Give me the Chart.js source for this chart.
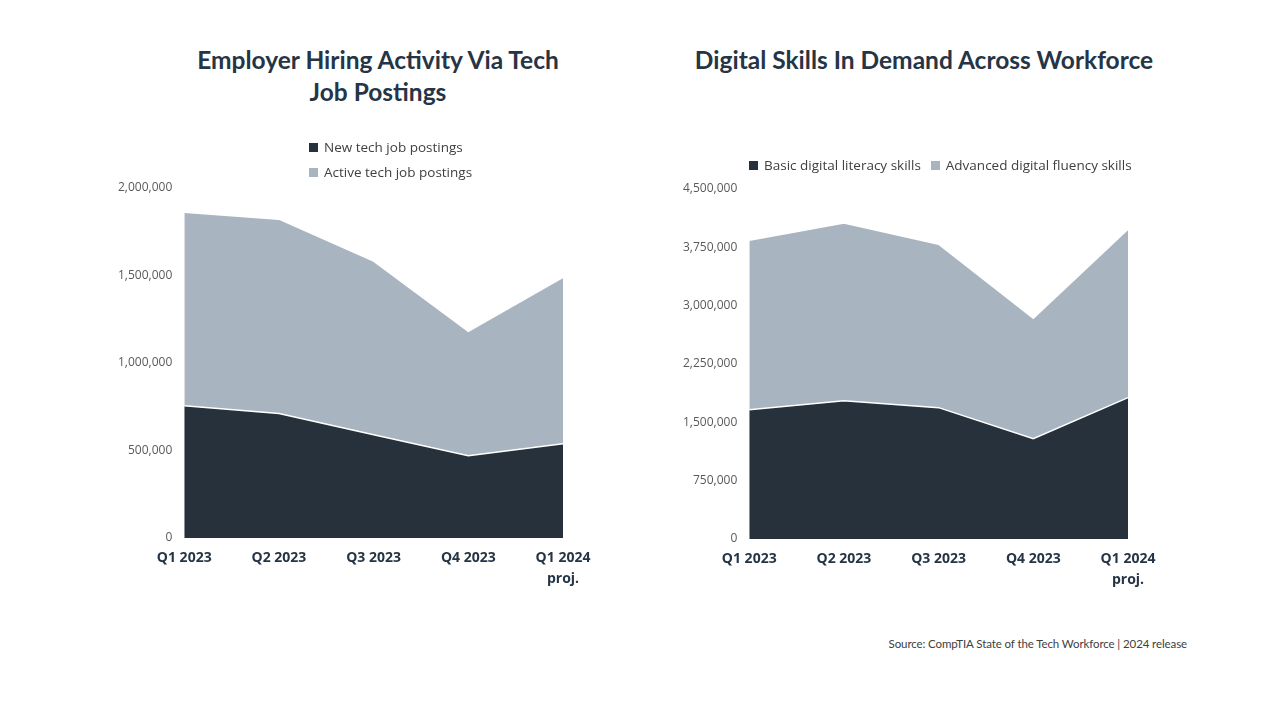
<!DOCTYPE html>
<html>
<head>
<meta charset="utf-8">
<script src="https://cdn.jsdelivr.net/npm/chart.js@4.4.1/dist/chart.umd.min.js"></script>
<style>
  body { margin: 0; width: 1280px; height: 720px; background: #fff; overflow: hidden; position: relative; font-family: 'Open Sans', sans-serif; }
  .box { position: absolute; }
  .title { position: absolute; font-family: Lato, sans-serif; font-weight: bold; font-size: 24.5px; line-height: 32px; color: #263545; text-align: center; white-space: nowrap; }
  .legend { position: absolute; font-size: 13.5px; color: #404040; }
  .legend .item { display: flex; align-items: center; white-space: nowrap; }
  .legend .sw { width: 9px; height: 9px; margin-right: 6px; display: inline-block; }
  #src { position: absolute; right: 93px; top: 637px; font-family: Lato, sans-serif; font-size: 11.5px; color: #404040; letter-spacing: -0.1px; }
</style>
</head>
<body>
<div class="title" style="left:178px; width:400px; top:44px;">Employer Hiring Activity Via Tech<br>Job Postings</div>
<div class="title" style="left:674px; width:500px; top:44px;">Digital Skills In Demand Across Workforce</div>
<div class="box" style="left:100px; top:0; width:556px; height:620px;"><canvas id="hiringChart"></canvas></div>
<div class="box" style="left:665px; top:0; width:518px; height:620px;"><canvas id="skillsChart"></canvas></div>
<div class="legend" id="hiringLegend" style="left:309px; top:135px; line-height:25px;"></div>
<div class="legend" id="skillsLegend" style="left:749px; top:156px; display:flex; gap:10px;"></div>
<div id="src">Source: CompTIA State of the Tech Workforce | 2024 release</div>
<script>
// quarters shared by both charts
const quarters = ['Q1 2023', 'Q2 2023', 'Q3 2023', 'Q4 2023', ['Q1 2024', 'proj.']];

// left chart: tech job postings
const newPostings = [756000, 711000, 590000, 470000, 539000];
const activePostings = [1106000, 1111000, 992000, 711000, 951000];

// right chart: digital skills
const basicSkills = [1663000, 1779000, 1689000, 1289000, 1818000];
const advancedSkills = [2179000, 2283000, 2102000, 1548000, 2166000];

const dark = '#27313b';
const light = '#a8b4c0';

function makeLegend(id, items) {
    const el = document.getElementById(id);
    items.forEach(function (it) {
        const d = document.createElement('div');
        d.className = 'item';
        d.innerHTML = '<span class="sw" style="background:' + it[1] + '"></span>' + it[0];
        el.appendChild(d);
    });
}

function areaChart(canvasId, series, yMax, yStep, pad) {
    return new Chart(document.getElementById(canvasId), {
        type: 'line',
        data: {
            labels: quarters,
            datasets: series.map(function (s) {
                return {
                    label: s.label,
                    data: s.data,
                    fill: true,
                    backgroundColor: s.color,
                    borderColor: '#ffffff',
                    borderWidth: 1.5,
                    pointRadius: 0,
                    tension: 0
                };
            })
        },
        options: {
            responsive: true,
            maintainAspectRatio: false,
            animation: false,
            layout: { padding: pad },
            plugins: {
                legend: { display: false },
                tooltip: { enabled: false }
            },
            scales: {
                x: {
                    offset: false,
                    grid: { display: false, drawTicks: false },
                    border: { display: false },
                    ticks: {
                        color: '#263545',
                        padding: 10,
                        maxRotation: 0,
                        autoSkip: false,
                        font: { family: 'Open Sans', size: 14, weight: 'bold', lineHeight: 1.5 }
                    }
                },
                y: {
                    stacked: true,
                    min: 0,
                    max: yMax,
                    grid: { display: false, drawTicks: false },
                    border: { display: false },
                    ticks: {
                        stepSize: yStep,
                        color: '#595959',
                        padding: 12,
                        font: { family: 'Open Sans', size: 12 },
                        callback: function (v) { return v.toLocaleString('en-US'); }
                    }
                }
            }
        }
    });
}

areaChart('hiringChart', [
    { label: 'New tech job postings', data: newPostings, color: dark },
    { label: 'Active tech job postings', data: activePostings, color: light }
], 2000000, 500000, { left: 6, right: 93, top: 188, bottom: 20 });

areaChart('skillsChart', [
    { label: 'Basic digital literacy skills', data: basicSkills, color: dark },
    { label: 'Advanced digital fluency skills', data: advancedSkills, color: light }
], 4500000, 750000, { left: 6, right: 55, top: 189, bottom: 19 });

makeLegend('hiringLegend', [['New tech job postings', dark], ['Active tech job postings', light]]);
makeLegend('skillsLegend', [['Basic digital literacy skills', dark], ['Advanced digital fluency skills', light]]);
</script>
</body>
</html>
